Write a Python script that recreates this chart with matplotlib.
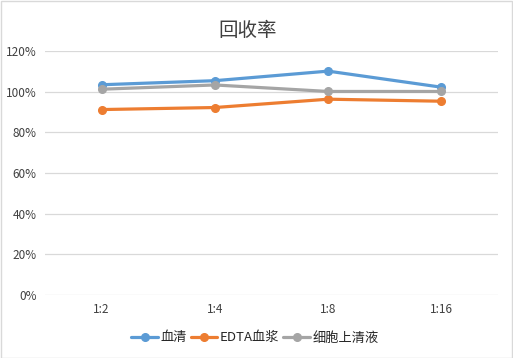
import matplotlib.pyplot as plt
from matplotlib.ticker import FuncFormatter

plt.rcParams['font.family'] = ['Noto Sans CJK SC', 'DejaVu Sans']

# ---------------------------------------------------------------------------
# data (recovery, %)
# ---------------------------------------------------------------------------
dilutions = ["1:2", "1:4", "1:8", "1:16"]
serum = [103.4, 105.4, 110.1, 102.2]
edta_plasma = [91.2, 92.2, 96.3, 95.3]
cell_supernatant = [101.2, 103.3, 100.1, 100.1]

series_names = ["血清", "EDTA血浆", "细胞上清液"]
series_colors = ["#5B9BD5", "#ED7D31", "#A5A5A5"]
yticks = [0, 20, 40, 60, 80, 100, 120]

fig = plt.figure(figsize=(5.13, 3.58), dpi=100)
fig.patches.append(plt.Rectangle((0.001, 0.001), 0.997, 0.997, transform=fig.transFigure,
                                 fill=False, edgecolor="#D9D9D9", linewidth=1))
ax = fig.add_axes([45 / 513, 1 - 295 / 358, 453 / 513, 244 / 358])

x = range(len(dilutions))
for vals, name, col in zip([serum, edta_plasma, cell_supernatant], series_names, series_colors):
    ax.plot(x, vals, color=col, linewidth=2.3, marker="o", markersize=5.5, label=name,
            solid_capstyle="round")

ax.set_xlim(-0.5, len(dilutions) - 0.5)
ax.set_ylim(0, 120)
ax.set_yticks(yticks)
ax.yaxis.set_major_formatter(FuncFormatter(lambda v, p: f"{v:.0f}%"))
ax.set_xticks(list(x))
ax.set_xticklabels(dilutions)
ax.grid(axis="y", color="#D9D9D9", linewidth=0.9)
ax.set_axisbelow(True)
for s in ax.spines.values():
    s.set_visible(False)
ax.tick_params(length=0, labelsize=8.5, colors="#404040")
ax.tick_params(axis="x", pad=6)
ax.tick_params(axis="y", pad=6)

fig.text(248 / 513, 1 - 30 / 358, "回收率", ha="center", va="center", fontsize=14,
         fontweight="light", color="#404040")

fig.legend(loc="center", bbox_to_anchor=(255 / 513, 1 - 338 / 358), ncol=3, frameon=False,
           fontsize=9.5, handlelength=2.0, handletextpad=0.2, columnspacing=0.3,
           labelcolor="#262626")

fig.savefig("out.png", dpi=100)
